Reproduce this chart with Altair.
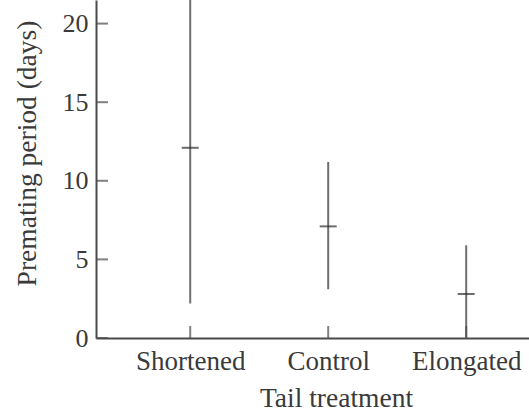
import altair as alt
import pandas as pd

# Premating period by tail treatment: mean with range
treatments = ["Shortened", "Control", "Elongated"]
means = [12.1, 7.1, 2.8]
lows = [2.2, 3.1, 0.0]
highs = [24.0, 11.2, 5.9]
y_tick_values = [0, 5, 10, 15, 20]

df = pd.DataFrame({"treatment": treatments, "mean": means, "low": lows, "high": highs})
ticks_df = pd.DataFrame({"tick": y_tick_values})

FONT = "Liberation Serif"
TEXT = "#3a3a3a"
AXIS = "#4a4a4a"
W, H = 433, 338

x_scale = alt.Scale(type="point", domain=treatments, padding=0.569, align=0.6)
y_scale = alt.Scale(domain=[0, 21.5], nice=False, zero=True)

x_axis = alt.Axis(
    title="Tail treatment",
    ticks=False,
    grid=False,
    domainColor=AXIS,
    domainWidth=2,
    labelFont=FONT,
    labelFontSize=27,
    labelColor=TEXT,
    labelPadding=10,
    labelAngle=0,
    titleFont=FONT,
    titleFontSize=27.5,
    titleFontWeight="normal",
    titleColor=TEXT,
    titleX=240,
    titleY=68,
    titleBaseline="alphabetic",
    titleAlign="center",
)

y_axis = alt.Axis(
    title="Premating period (days)",
    values=y_tick_values,
    ticks=False,
    grid=False,
    domainColor=AXIS,
    domainWidth=2,
    labelFont=FONT,
    labelFontSize=26,
    labelColor=TEXT,
    labelPadding=8,
    titleFont=FONT,
    titleFontSize=27.5,
    titleFontWeight="normal",
    titleColor=TEXT,
    titleAngle=270,
    titleX=-69,
    titleY=153,
    titleAlign="center",
    titleBaseline="middle",
)


def xcat():
    return alt.X("treatment:N", scale=x_scale, sort=treatments, axis=x_axis)


ranges = alt.Chart(df).mark_rule(color="#6f6f6f", strokeWidth=2, clip=True).encode(
    x=xcat(),
    y=alt.Y("low:Q", scale=y_scale, axis=y_axis),
    y2="high:Q",
)

mean_marks = alt.Chart(df).mark_tick(
    orient="horizontal", color="#2e2e2e", size=17, thickness=2
).encode(
    x=xcat(),
    y=alt.Y("mean:Q", scale=y_scale, axis=y_axis),
)

# inward-pointing ticks on the category axis
x_ticks = alt.Chart(df).mark_tick(
    orient="vertical", color=AXIS, size=12, thickness=2
).encode(
    x=xcat(),
    y=alt.value(H - 6),
)

# inward-pointing ticks on the value axis
y_ticks = alt.Chart(ticks_df).mark_tick(
    orient="horizontal", color=AXIS, size=12, thickness=2
).encode(
    x=alt.value(6),
    y=alt.Y("tick:Q", scale=y_scale, axis=y_axis),
)

chart = (
    alt.layer(ranges, mean_marks, x_ticks, y_ticks)
    .properties(
        width=W,
        height=H,
        autosize=alt.AutoSizeParams(type="none"),
        padding={"left": 96, "top": 0, "right": 0, "bottom": 73},
        background="white",
    )
    .configure_view(stroke=None)
)

chart.save("out.html", embed_options={"renderer": "svg", "actions": False})
